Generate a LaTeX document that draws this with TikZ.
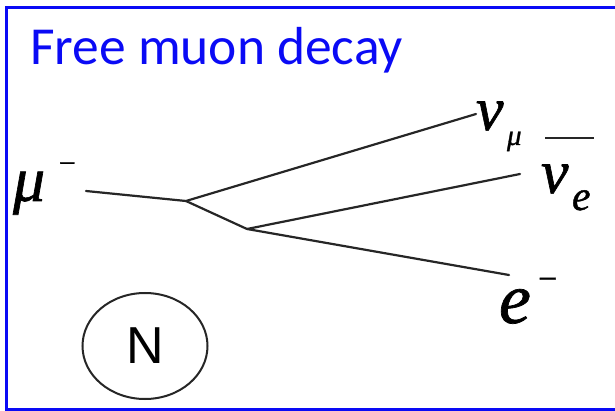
\RequirePackage{fix-cm}
\documentclass[tikz,border=0pt]{standalone}
\usepackage{fontspec}
\usetikzlibrary{shapes.geometric}
\newfontfamily\titlefont{Carlito}
\newfontfamily\nfont{Liberation Sans}
\newfontface\symf[FakeBold=1.0]{Liberation Serif Italic}
\definecolor{titleblue}{RGB}{10,10,245}
\tikzset{
  particle/.style={draw=black!85, line width=2.2pt, line cap=round},
  sym/.style={inner sep=0pt, outer sep=0pt, text=black},
}
\begin{document}
\begin{tikzpicture}[x=1pt, y=-1pt]
\useasboundingbox (0,0) rectangle (615,411);
\draw[titleblue, line width=3pt] (6.5,7.5) rectangle (630,409);
\node[anchor=base west, inner sep=0pt, text=titleblue] (title) at (30,65)
  {\titlefont\fontsize{53.5}{53.5}\selectfont Free muon decay};
% coordinates
\coordinate (mustart) at (86,191);
\coordinate (v1) at (186,201);
\coordinate (v2) at (247,229);
\coordinate (numuend) at (476,114);
\coordinate (nueend) at (520,174);
\coordinate (eend) at (509,275);
\draw[particle] (mustart) -- (v1);
\draw[particle] (v1) -- (numuend);
\draw[particle] (v1) -- (v2);
\draw[particle] (v2) -- (nueend);
\draw[particle] (v2) -- (eend);
% labels
\node[sym, anchor=base west] (mu) at (13,201) {\symf\fontsize{64}{64}\selectfont μ};
\node[sym, anchor=base] (muminus) at (67,173) {\symf\fontsize{30}{30}\selectfont −};
\node[sym, anchor=base west] (numu) at (476,130) {\symf\fontsize{62}{62}\selectfont ν};
\node[sym, anchor=base west] (numusub) at (507,145) {\symf\fontsize{29}{29}\selectfont μ};
\node[sym, anchor=base west] (nue) at (541,193) {\symf\fontsize{62}{62}\selectfont ν};
\node[sym, anchor=base west] (nuesub) at (572,210) {\symf\fontsize{42}{42}\selectfont e};
\coordinate (barl) at (545,138);
\coordinate (barr) at (594,138);
\draw[black!85, line width=2pt] (barl) -- (barr);
\node[sym, anchor=base west] (el) at (499,323) {\symf\fontsize{72}{72}\selectfont e};
\node[sym, anchor=base] (elminus) at (547.5,290) {\symf\fontsize{34}{34}\selectfont −};
\node[draw=black!85, line width=2pt, ellipse, minimum width=125pt, minimum height=106pt, inner sep=0pt] (N) at (145,346)
  {\nfont\fontsize{52}{52}\selectfont N};
\end{tikzpicture}
\end{document}
